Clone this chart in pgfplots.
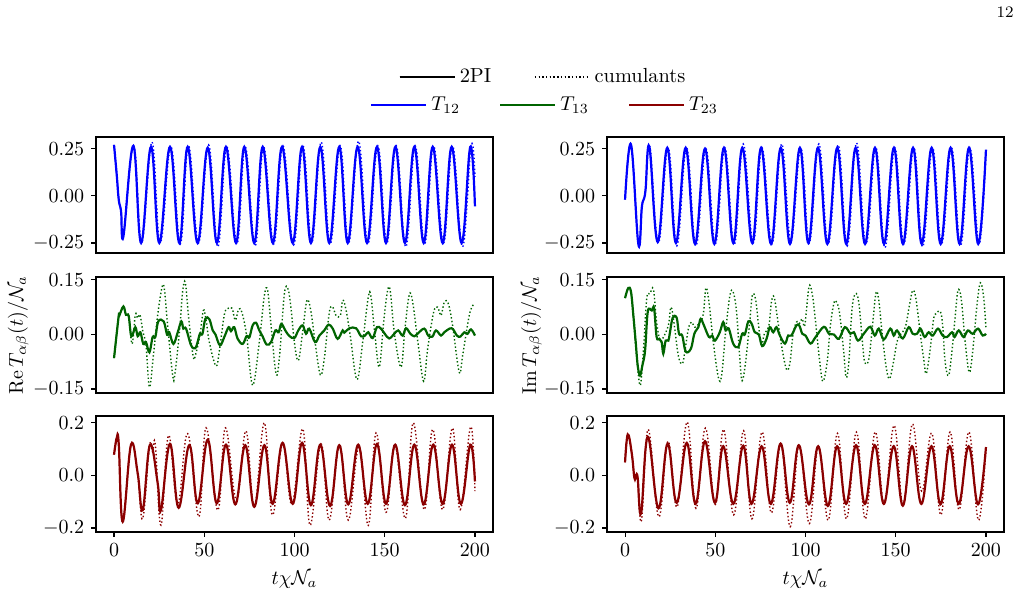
\documentclass[border=0pt]{standalone}
\usepackage{pgfplots}
\pgfplotsset{compat=1.18}

\definecolor{tblue}{RGB}{0,0,255}
\definecolor{tgreen}{RGB}{0,100,0}
\definecolor{tred}{RGB}{139,0,0}

\pgfplotsset{
  panel/.style={
    scale only axis, width=198.5pt, height=58pt,
    xmin=-10, xmax=210,
    axis line style={line width=0.55pt},
    every tick/.style={line width=0.55pt, black},
    major tick length=2.4pt,
    tick align=outside,
    tick pos=left,
    tick label style={font=\fontsize{10}{12}\selectfont},
    label style={font=\fontsize{10.3}{12}\selectfont},
  },
  nox/.style={xtick=\empty},
  withx/.style={xtick={0,50,100,150,200}, xlabel={$t\chi\mathcal{N}_a$}},
  row1/.style={ymin=-0.303, ymax=0.312, ytick={-0.25,0,0.25},
    yticklabel style={/pgf/number format/.cd, fixed, fixed zerofill, precision=2}},
  row2/.style={ymin=-0.161, ymax=0.158, ytick={-0.15,0,0.15},
    yticklabel style={/pgf/number format/.cd, fixed, fixed zerofill, precision=2}},
  row3/.style={ymin=-0.215, ymax=0.226, ytick={-0.2,0,0.2},
    yticklabel style={/pgf/number format/.cd, fixed, fixed zerofill, precision=1}},
  tpi/.style={line width=1.1pt, smooth, tension=0.68},
  cum/.style={line width=0.7pt, dash pattern=on 0.7pt off 1.15pt, smooth, tension=0.68},
  noisy/.style={tension=0.6},
  legrow/.style={
    scale only axis, width=1pt, height=1pt, hide axis,
    xmin=0, xmax=1, ymin=0, ymax=1, anchor=center,
    legend style={at={(0.5,0.5)}, anchor=center, draw=none, fill=none,
      font=\fontsize{10.2}{12}\selectfont},
    legend image code/.code={\draw[##1] (0pt,0pt) -- (21.5pt,0pt);
      \path (0pt,0pt) -- (27.5pt,0pt);},
  },
}

\begin{document}
\begin{tikzpicture}
\path[use as bounding box] (0,0) rectangle (510.5pt,296pt);

\node[anchor=east, inner sep=0pt, font=\fontsize{8}{9}\selectfont] at (507pt,290pt) {12};

% legends
\begin{axis}[legrow, at={(272pt,257.5pt)}, legend columns=2,
  legend style={/tikz/every even column/.append style={column sep=19.5pt}}]
\addlegendimage{black, line width=1.1pt}
\addlegendentry{2PI}
\addlegendimage{black, line width=0.7pt, dash pattern=on 0.7pt off 1.15pt}
\addlegendentry{cumulants}
\end{axis}
\begin{axis}[legrow, at={(273pt,243.5pt)}, legend columns=3,
  legend style={/tikz/every even column/.append style={column sep=17.5pt}}]
\addlegendimage{tblue, line width=1.1pt}
\addlegendentry{$T_{12}$}
\addlegendimage{tgreen, line width=1.1pt}
\addlegendentry{$T_{13}$}
\addlegendimage{tred, line width=1.1pt}
\addlegendentry{$T_{23}$}
\end{axis}

% ---------- Re T12 ----------
\begin{axis}[panel, nox, row1, at={(48pt,227.5pt)}, anchor=north west]
\addplot[tblue, tpi] coordinates {
(0,0.27) (1.5,0.11) (2.6,-0.02) (3.9,-0.083) (5.2,-0.214) (10.7,0.265) (15.0,-0.25) (20.5,0.26) (25.1,-0.25) (31.0,0.26) (36.2,-0.25) (40.8,0.26) (46.3,-0.25) (51.9,0.255) (57.0,-0.25) (62.0,0.26) (67.6,-0.25) (72.2,0.26) (77.7,-0.25) (82.4,0.26) (88.0,-0.25) (93.1,0.26) (99.0,-0.25) (104.2,0.26) (109.1,-0.25) (114.3,0.26) (119.3,-0.25) (124.8,0.26) (129.5,-0.25) (135.0,0.26) (140.2,-0.25) (145.7,0.26) (150.7,-0.25) (155.9,0.26) (161.2,-0.25) (166.4,0.26) (171.6,-0.25) (176.6,0.26) (182.1,-0.25) (187.1,0.26) (192.6,-0.25) (197.4,0.26) (200,-0.056)
};
\addplot[tblue, cum] coordinates {
(0,0.27) (1.5,0.11) (2.6,-0.02) (3.9,-0.083) (5.2,-0.214) (10.9,0.265) (15.3,-0.25) (21.0,0.285) (25.6,-0.25) (31.5,0.26) (36.7,-0.255) (41.3,0.265) (46.8,-0.25) (52.4,0.27) (57.5,-0.27) (62.5,0.26) (68.1,-0.255) (72.7,0.26) (78.2,-0.265) (82.9,0.26) (88.5,-0.255) (93.6,0.265) (99.5,-0.26) (104.7,0.265) (109.6,-0.25) (114.8,0.285) (119.8,-0.255) (125.3,0.265) (130.0,-0.25) (135.5,0.29) (140.7,-0.255) (146.2,0.265) (151.2,-0.25) (156.4,0.265) (161.7,-0.27) (166.9,0.265) (172.1,-0.255) (177.1,0.265) (182.6,-0.25) (187.6,0.265) (193.1,-0.27) (197.9,0.265) (200,0.1)
};
\end{axis}

% ---------- Im T12 ----------
\begin{axis}[panel, nox, row1, at={(303.5pt,227.5pt)}, anchor=north west]
\addplot[tblue, tpi] coordinates {
(0,-0.02) (3.3,0.272) (7.4,-0.258) (9.3,-0.06) (10.5,-0.015) (11.4,0.037) (13.5,0.26) (18.1,-0.245) (23.4,0.255) (28.2,-0.25) (33.6,0.255) (38.8,-0.255) (44.3,0.25) (49.5,-0.255) (54.8,0.255) (60.0,-0.25) (65.0,0.255) (70.5,-0.25) (75.4,0.255) (80.9,-0.255) (86.3,0.255) (91.4,-0.255) (96.9,0.255) (101.6,-0.25) (106.9,0.255) (112.1,-0.255) (117.6,0.255) (122.6,-0.255) (127.8,0.255) (133.0,-0.255) (138.5,0.255) (143.5,-0.255) (149.0,0.255) (154.0,-0.255) (159.6,0.255) (164.4,-0.255) (169.9,0.255) (174.9,-0.255) (180.4,0.255) (185.4,-0.255) (190.6,0.255) (195.7,-0.255) (200,0.245)
};
\addplot[tblue, cum] coordinates {
(0,-0.02) (3.3,0.272) (7.4,-0.258) (9.3,-0.06) (10.5,-0.015) (11.4,0.037) (13.8,0.26) (18.5,-0.25) (23.9,0.255) (28.7,-0.265) (34.1,0.255) (39.3,-0.265) (44.8,0.25) (50.0,-0.255) (55.3,0.255) (60.5,-0.26) (65.5,0.275) (71.0,-0.25) (75.9,0.255) (81.4,-0.255) (86.8,0.275) (91.9,-0.24) (97.4,0.255) (102.1,-0.25) (107.4,0.275) (112.6,-0.255) (118.1,0.27) (123.1,-0.265) (128.3,0.28) (133.5,-0.255) (139.0,0.255) (144.0,-0.275) (149.5,0.255) (154.5,-0.255) (160.1,0.255) (164.9,-0.27) (170.4,0.255) (175.4,-0.255) (180.9,0.255) (185.9,-0.265) (191.1,0.255) (196.2,-0.255) (200,0.24)
};
\end{axis}

% ---------- Re T13 ----------
\begin{axis}[panel, nox, row2, at={(48pt,157.5pt)}, anchor=north west,
  ylabel={$\mathrm{Re}\,T_{\alpha\beta}(t)/\mathcal{N}_a$},
  ylabel style={at={(rel axis cs:-0.196,0.5)}, anchor=center}]
\addplot[tgreen, tpi, noisy] coordinates {
(0,-0.065) (2.6,0.052) (3.0,0.053) (5.2,0.077) (6.6,0.054) (8.1,0.051) (9.6,-0.005) (11.8,0.02) (13.1,-0.005) (14.6,0.006) (16.2,-0.026) (17.7,-0.021) (19.6,-0.049) (21.4,-0.007) (22.9,-0.007) (24.5,0.036) (27.5,0.036) (29.4,-0.001) (30.6,0.006) (32.9,-0.026) (35.3,0.006) (37.3,0.036) (38.4,0.016) (39.9,0.016) (42.7,-0.030) (45.0,-0.038) (46.3,-0.021) (47.6,0.002) (49.0,0.002) (50.6,0.043) (52.8,0.042) (54.7,0.011) (56.2,0.0) (58.7,-0.030) (61.1,-0.007) (63.5,0.02) (64.8,0.009) (66.6,0.02) (68.5,-0.012) (71.3,-0.026) (73.5,-0.004) (75.0,-0.008) (76.8,0.025) (78.7,0.032) (80.5,0.011) (82.3,-0.005) (84.6,-0.028) (87.0,-0.021) (89.4,0.011) (91.2,0.006) (92.7,0.029) (94.9,0.011) (97.1,-0.004) (99.9,-0.010) (102.1,0.011) (104.5,0.025) (106.4,0.002) (108.2,0.016) (111.4,-0.021) (113.8,-0.003) (116.5,0.011) (118.9,0.027) (121.2,0.016) (123.9,-0.012) (126.7,0.011) (127.6,0.005) (130.4,0.017) (134.1,0.017) (136.9,-0.005) (139.1,-0.003) (140.9,0.006) (143.3,-0.010) (145.7,0.02) (147.9,0.016) (150.0,0.002) (152.5,-0.011) (155.3,0.002) (157.5,0.011) (159.9,-0.003) (161.8,0.017) (164.2,0.002) (166.4,-0.005) (168.2,0.002) (171.9,0.016) (174.1,-0.003) (176.4,-0.006) (178.4,0.011) (181.2,-0.003) (183.0,0.006) (187.1,0.017) (190.0,-0.003) (191.9,-0.006) (194.1,0.006) (195.9,0.002) (197.8,0.014) (200,-0.003)
};
\addplot[tgreen, cum, noisy] coordinates {
(0,-0.065) (2.6,0.052) (3.0,0.053) (5.2,0.077) (6.6,0.054) (8.1,0.051) (10.0,-0.026) (11.8,0.054) (13.1,0.045) (14.4,0.054) (15.9,0.01) (17.7,-0.03) (19.6,-0.145) (21.8,-0.058) (24.2,0.054) (26.6,0.130) (27.9,0.124) (29.7,0.025) (32.5,-0.113) (33.7,-0.110) (36.2,0.006) (38.0,0.117) (39.5,0.142) (41.4,0.043) (43.9,-0.062) (45.2,-0.055) (47.6,-0.003) (49.5,0.066) (51.0,0.04) (52.8,-0.021) (56.5,-0.087) (58.5,-0.04) (61.1,0.054) (63.0,0.071) (65.4,0.072) (67.2,0.039) (69.1,0.07) (70.9,0.06) (73.5,-0.004) (76.8,-0.14) (80.5,-0.021) (83.3,0.107) (85.1,0.121) (87.0,0.025) (89.8,-0.108) (91.7,-0.06) (94.4,0.112) (96.4,0.125) (98.1,0.071) (99.9,-0.021) (102.1,-0.072) (104.5,0.006) (106.9,0.094) (109.1,0.063) (111.4,-0.021) (114.3,-0.111) (116.5,-0.067) (119.3,0.061) (121.2,0.075) (123.0,0.052) (125.4,0.052) (126.7,0.094) (128.5,0.069) (130.9,-0.003) (134.6,-0.124) (137.8,-0.021) (140.9,0.103) (142.4,0.103) (144.6,-0.003) (147.0,-0.09) (149.4,0.034) (151.6,0.121) (153.1,0.118) (155.3,0.006) (159.0,-0.09) (161.2,0.016) (163.6,0.109) (165.5,0.089) (168.6,-0.03) (171.6,-0.129) (173.8,-0.039) (177.1,0.061) (179.3,0.075) (181.2,0.052) (183.0,0.089) (185.2,0.085) (187.6,0.025) (191.3,-0.104) (193.2,-0.057) (196.9,0.054) (199.3,0.083)
};
\end{axis}

% ---------- Im T13 ----------
\begin{axis}[panel, nox, row2, at={(303.5pt,157.5pt)}, anchor=north west,
  ylabel={$\mathrm{Im}\,T_{\alpha\beta}(t)/\mathcal{N}_a$},
  ylabel style={at={(rel axis cs:-0.19,0.5)}, anchor=center}]
\addplot[tgreen, tpi, noisy] coordinates {
(0,0.100) (1.8,0.128) (3.3,0.117) (4.6,0.052) (5.9,-0.021) (7.0,-0.085) (8.3,-0.113) (9.6,-0.085) (11.1,-0.044) (12.6,0.063) (14.8,0.066) (16.1,0.072) (17.5,-0.007) (19.0,-0.012) (20.3,-0.021) (21.2,-0.053) (22.5,-0.017) (24.0,-0.017) (24.9,0.006) (26.4,0.046) (28.6,0.046) (29.9,0.002) (31.7,-0.003) (33.6,-0.047) (36.5,-0.039) (38.4,0.002) (40.6,0.02) (41.9,0.043) (43.7,0.025) (46.5,-0.007) (48.3,-0.003) (49.8,-0.017) (52.5,0.006) (54.4,0.034) (55.7,0.011) (57.5,0.016) (59.9,-0.025) (62.7,-0.035) (64.9,0.002) (66.4,0.0) (68.3,0.036) (70.1,0.03) (71.9,0.006) (74.1,0.0) (76.0,-0.032) (78.4,-0.012) (80.2,0.02) (82.1,0.006) (83.9,0.02) (85.8,-0.003) (88.6,-0.025) (90.4,-0.003) (92.2,-0.003) (95.0,0.025) (96.6,0.024) (98.2,0.002) (100.0,-0.003) (102.8,-0.025) (105.6,-0.007) (110.2,0.021) (113.0,0.002) (115.7,0.0) (118.5,-0.012) (121.8,0.02) (124.9,0.002) (126.8,0.006) (129.1,-0.017) (132.3,0.002) (135.9,0.021) (138.4,-0.003) (140.6,0.016) (143.4,-0.014) (147.0,0.016) (148.9,-0.003) (150.7,0.011) (153.9,-0.011) (157.2,0.02) (159.4,0.002) (161.8,0.002) (163.7,0.016) (166.0,-0.007) (168.2,0.006) (170.5,-0.003) (173.4,0.016) (176.0,-0.003) (178.4,-0.007) (181.2,0.006) (182.6,-0.007) (184.9,0.011) (187.6,-0.007) (190.0,0.011) (192.6,0.002) (195.6,0.016) (198.2,-0.003) (200,0.002)
};
\addplot[tgreen, cum, noisy] coordinates {
(0,0.100) (1.8,0.128) (3.3,0.117) (4.6,0.052) (5.9,-0.030) (8.3,-0.140) (10.1,-0.049) (12.0,0.098) (13.8,0.112) (15.7,0.124) (17.5,0.034) (19.4,-0.017) (21.2,-0.008) (24.0,0.025) (25.5,0.075) (27.3,0.025) (29.5,-0.058) (31.7,-0.081) (33.2,-0.045) (35.1,0.016) (36.9,0.034) (38.7,0.02) (41.5,0.034) (43.4,0.057) (44.8,0.128) (46.5,0.089) (48.9,-0.021) (51.7,-0.118) (53.5,-0.113) (55.7,0.006) (58.1,0.107) (59.9,0.117) (61.8,0.061) (63.6,-0.067) (64.9,-0.127) (66.8,-0.076) (69.2,0.04) (70.5,0.107) (72.3,0.098) (74.2,0.016) (75.7,-0.030) (77.1,0.0) (79.7,0.025) (81.1,0.089) (82.6,0.103) (84.5,0.043) (86.7,-0.03) (89.4,-0.095) (91.3,-0.081) (93.1,0.0) (95.0,0.034) (96.6,0.03) (98.2,0.043) (99.6,0.025) (101.9,0.130) (103.7,0.112) (105.6,0.034) (107.7,-0.067) (109.6,-0.129) (112.0,-0.076) (113.8,0.025) (115.7,0.085) (116.9,0.091) (118.8,0.061) (121.2,-0.049) (122.5,-0.118) (124.0,-0.076) (125.8,0.071) (127.7,0.112) (129.5,0.089) (131.4,-0.012) (132.8,-0.076) (135.1,-0.067) (137.3,0.034) (139.1,0.115) (140.6,0.094) (142.4,0.006) (144.7,-0.090) (146.5,-0.122) (148.4,-0.085) (150.7,-0.021) (152.6,0.0) (155.3,0.02) (157.6,0.08) (159.4,0.121) (161.2,0.098) (163.6,0.002) (165.5,-0.067) (166.9,-0.108) (169.1,-0.04) (171.0,0.043) (172.3,0.057) (174.7,0.063) (176.0,0.025) (177.4,-0.076) (179.3,-0.113) (181.1,-0.049) (183.0,0.052) (184.5,0.121) (186.3,0.098) (188.5,-0.021) (190.7,-0.104) (192.6,-0.049) (195.0,0.080) (196.9,0.142) (198.7,0.103) (200,0.016)
};
\end{axis}

% ---------- Re T23 ----------
\begin{axis}[panel, withx, row3, at={(48pt,88pt)}, anchor=north west]
\addplot[tred, tpi] coordinates {
(0,0.079) (1.5,0.143) (2.6,0.12) (4.8,-0.176) (9.4,0.117) (13.1,0.009) (15.9,-0.132) (19.9,0.117) (24.2,-0.03) (26.0,-0.132) (31.0,0.12) (35.8,-0.123) (41.7,0.115) (46.4,-0.106) (51.9,0.136) (56.9,-0.106) (62.0,0.117) (67.2,-0.11) (72.7,0.115) (77.7,-0.119) (83.3,0.115) (87.9,-0.108) (93.4,0.124) (99.0,-0.108) (104.2,0.124) (109.1,-0.113) (114.3,0.117) (119.7,-0.116) (124.8,0.115) (129.8,-0.11) (135.3,0.117) (140.6,-0.108) (145.7,0.12) (150.7,-0.108) (155.8,0.117) (161.2,-0.113) (166.4,0.117) (171.6,-0.11) (176.9,0.117) (182.1,-0.108) (187.3,0.117) (192.2,-0.108) (197.4,0.117) (200,-0.023)
};
\addplot[tred, cum] coordinates {
(0,0.079) (1.5,0.143) (2.6,0.12) (4.8,-0.18) (9.4,0.117) (13.1,0.0) (15.9,-0.164) (19.6,0.11) (21.3,0.09) (22.9,0.115) (26.0,-0.189) (30.2,0.152) (35.3,-0.11) (40.8,0.159) (47.0,-0.157) (51.0,0.181) (57.5,-0.132) (61.7,0.181) (67.8,-0.093) (73.1,0.169) (77.7,-0.119) (83.3,0.2) (87.7,-0.15) (93.4,0.12) (98.6,-0.11) (104.6,0.177) (108.6,-0.189) (114.7,0.12) (119.2,-0.17) (125.0,0.117) (129.8,-0.17) (135.8,0.11) (140.9,-0.19) (145.2,0.162) (150.7,-0.14) (155.6,0.117) (161.5,-0.163) (165.8,0.2) (171.9,-0.13) (176.6,0.175) (182.1,-0.13) (187.5,0.18) (191.8,-0.13) (197.6,0.185) (200,-0.06)
};
\end{axis}

% ---------- Im T23 ----------
\begin{axis}[panel, withx, row3, at={(303.5pt,88pt)}, anchor=north west]
\addplot[tred, tpi] coordinates {
(0,0.05) (1.5,0.156) (3.7,0.085) (5.2,-0.01) (6.1,0.0) (7.0,-0.01) (8.9,-0.144) (12.6,0.147) (18.5,-0.125) (23.6,0.121) (28.6,-0.104) (34.2,0.124) (39.1,-0.108) (44.3,0.13) (49.8,-0.104) (54.4,0.111) (60.0,-0.108) (65.5,0.113) (70.1,-0.108) (75.7,0.111) (80.8,-0.108) (86.2,0.121) (91.3,-0.104) (96.3,0.115) (101.9,-0.11) (107.0,0.111) (112.4,-0.116) (117.5,0.111) (122.5,-0.108) (128.0,0.115) (132.9,-0.108) (138.4,0.115) (143.4,-0.108) (148.9,0.111) (153.9,-0.115) (159.0,0.111) (164.2,-0.108) (169.8,0.111) (174.8,-0.11) (179.9,0.111) (184.9,-0.108) (190.4,0.111) (195.6,-0.11) (200,0.108)
};
\addplot[tred, cum] coordinates {
(0,0.05) (1.5,0.156) (3.7,0.085) (5.2,-0.01) (6.1,0.0) (7.0,-0.01) (9.1,-0.172) (12.8,0.175) (18.7,-0.157) (23.8,0.13) (28.8,-0.12) (34.4,0.203) (39.3,-0.125) (44.5,0.18) (50.0,-0.11) (54.6,0.175) (60.2,-0.15) (65.7,0.17) (70.3,-0.165) (75.9,0.165) (81.0,-0.142) (86.4,0.117) (91.5,-0.195) (96.5,0.117) (102.1,-0.183) (107.2,0.111) (112.6,-0.17) (117.7,0.16) (122.7,-0.165) (128.2,0.165) (133.1,-0.165) (138.6,0.165) (143.6,-0.108) (149.1,0.19) (154.1,-0.115) (159.2,0.195) (164.4,-0.06) (170.0,0.16) (175.0,-0.15) (180.1,0.165) (185.1,-0.13) (190.6,0.165) (195.8,-0.17) (200,0.1)
};
\end{axis}

\end{tikzpicture}
\end{document}
